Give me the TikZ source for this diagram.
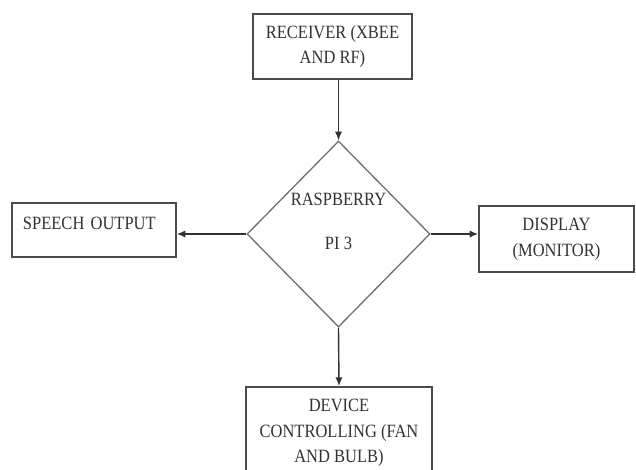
\documentclass[tikz,border=0pt]{standalone}
\usepackage{fontspec}
\setmainfont{Liberation Serif}[FakeStretch=0.88]
\usepackage{tikz}
\usepackage{xcolor}
\usetikzlibrary{arrows.meta,shapes.geometric}
\definecolor{ink}{RGB}{50,50,50}
\definecolor{frame}{RGB}{75,75,75}
\definecolor{edge}{RGB}{110,110,110}
\tikzset{
  box/.style={draw=frame,line width=1.4pt,align=center,inner sep=0pt,text=ink,
    font=\fontsize{16pt}{22pt}\selectfont},
  chip/.style={draw=edge,line width=1.1pt,diamond,inner sep=0pt,
    minimum width=5.49cm,minimum height=5.58cm},
  note/.style={align=center,text=ink,font=\fontsize{16pt}{22pt}\selectfont},
  arrow/.style={-{Latex[length=2.6mm,width=2.2mm]},line width=1.2pt,draw=ink}
}
\begin{document}
\begin{tikzpicture}[x=0.03cm,y=-0.03cm]
  \useasboundingbox (0,0) rectangle (636,469);
  \node[box,minimum width=4.77cm,minimum height=1.95cm] (recv) at (332.5,46.5) {
    RECEIVER (XBEE\\
    AND RF)
  };
  \node[chip] (pi) at (338.5,234) {};
  \node[note] (pilabel) at (338.5,221.5) {
    RASPBERRY\\[15pt]
    PI 3
  };
  \node[box,text width=4.26cm,align=left,inner xsep=0.33cm,minimum height=1.62cm] (speech) at (94,230) {
    SPEECH OUTPUT\\[-10pt]\mbox{}
  };
  \node[box,minimum width=4.65cm,minimum height=1.98cm] (disp) at (556.5,239) {
    DISPLAY\\
    (MONITOR)
  };
  \node[box,minimum width=5.58cm,minimum height=2.76cm,anchor=north] (dev) at (339,386) {
    DEVICE\\
    CONTROLLING (FAN\\
    AND BULB)
  };

  \draw[arrow] (pi.north |- recv.south) -- (pi.north);
  \draw[arrow] (pi.west) -- (speech.east |- pi.west);
  \draw[arrow] (pi.east) -- (disp.west |- pi.east);
  \draw[arrow] (pi.south) -- (dev.north);
\end{tikzpicture}
\end{document}
